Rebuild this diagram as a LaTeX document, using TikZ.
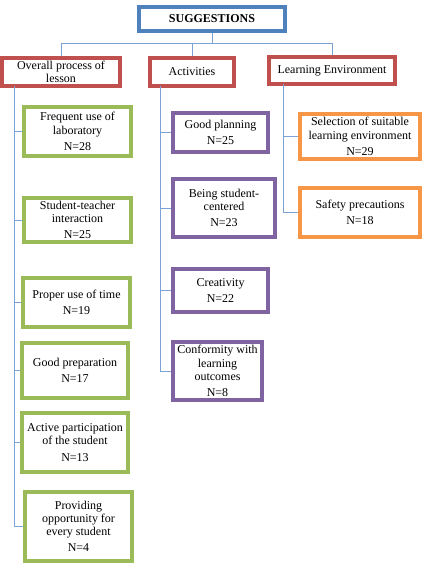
\documentclass[tikz,border=0pt]{standalone}
\usepackage{fontspec}
\setmainfont{Liberation Serif}
\definecolor{cblue}{HTML}{4F81BD}
\definecolor{cred}{HTML}{C0504D}
\definecolor{cgreen}{HTML}{9BBB59}
\definecolor{cpurple}{HTML}{8064A2}
\definecolor{corange}{HTML}{F79646}
\definecolor{cline}{HTML}{7BA3D6}
\begin{document}
\begin{tikzpicture}[x=1pt,y=-1pt,
  box/.style={draw, fill=white, line width=3.2pt, align=center, inner sep=0pt,
    font=\fontsize{12}{13.2}\selectfont},
  topbox/.style={box, draw=cblue, font=\fontsize{12}{13.2}\selectfont\bfseries},
  catbox/.style={box, draw=cred},
  greenbox/.style={box, draw=cgreen},
  purplebox/.style={box, draw=cpurple, line width=3.1pt},
  orangebox/.style={box, draw=corange},
  conn/.style={draw=cline, line width=0.9pt}
]
\useasboundingbox (0,0) rectangle (429,568);

\coordinate (hub) at (212,43);
\coordinate (c1) at (14,86);
\coordinate (c2) at (160,86);
\coordinate (c3) at (283,84);

\node[topbox, minimum width=146pt, minimum height=24pt] (sug) at (212,19) {SUGGESTIONS};
\node[catbox, minimum width=118pt, minimum height=28pt] (ovr) at (61,72) {Overall process of\\lesson};
\node[catbox, minimum width=84pt, minimum height=28pt] (act) at (192,72) {Activities};
\node[catbox, minimum width=126pt, minimum height=27pt] (env) at (332,70.5) {Learning Environment};

\node[greenbox, minimum width=107pt, minimum height=49pt] (g1) at (77.5,131.5) {Frequent use of\\laboratory\\[3pt]N=28};
\node[greenbox, minimum width=107pt, minimum height=44pt] (g2) at (77.5,220) {Student-teacher\\interaction\\[3pt]N=25};
\node[greenbox, minimum width=107pt, minimum height=49pt] (g3) at (76.5,302.5) {Proper use of time\\[3pt]N=19};
\node[greenbox, minimum width=106pt, minimum height=55pt] (g4) at (75,370.5) {Good preparation\\[3pt]N=17};
\node[greenbox, minimum width=106pt, minimum height=59pt] (g5) at (75,442.5) {Active participation\\of the student\\[3pt]N=13};
\node[greenbox, minimum width=107pt, minimum height=69pt] (g6) at (78.5,526.5) {Providing\\opportunity for\\every student\\[3pt]N=4};

\node[purplebox, minimum width=95pt, minimum height=39pt] (p1) at (220.5,132.5) {Good planning\\[3pt]N=25};
\node[purplebox, minimum width=102pt, minimum height=58pt] (p2) at (224,208) {Being student-\\centered\\[3pt]N=23};
\node[purplebox, minimum width=95pt, minimum height=43pt] (p3) at (220.5,290.5) {Creativity\\[3pt]N=22};
\node[purplebox, minimum width=89pt, minimum height=58pt] (p4) at (217.5,371) {Conformity with\\learning\\outcomes\\[3pt]N=8};

\node[orangebox, minimum width=120pt, minimum height=45pt] (o1) at (360,136.5) {Selection of suitable\\learning environment\\[3pt]N=29};
\node[orangebox, minimum width=120pt, minimum height=49pt] (o2) at (360,212.5) {Safety precautions\\[3pt]N=18};

\path[conn] (sug.south) -- (hub);
\path[conn] (hub) -| (ovr.north);
\path[conn] (hub) -| (act.north);
\path[conn] (hub) -| (env.north);
\foreach \b in {g1,g2,g3,g4,g5,g6} {\path[conn] (c1) |- (\b.west);}
\foreach \b in {p1,p2,p3,p4} {\path[conn] (c2) |- (\b.west);}
\foreach \b in {o1,o2} {\path[conn] (c3) |- (\b.west);}
\end{tikzpicture}
\end{document}
